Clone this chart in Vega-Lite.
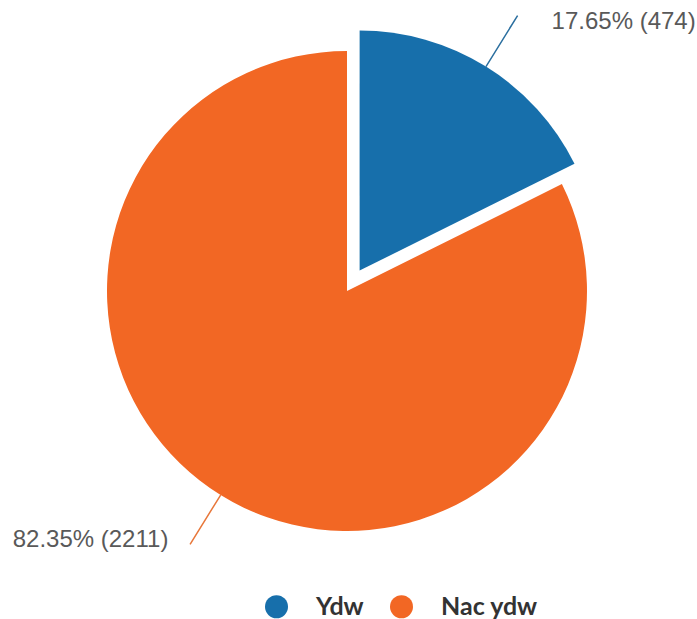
{
  "$schema": "https://vega.github.io/schema/vega-lite/v6.json",
  "width": 694,
  "height": 582,
  "autosize": {"type": "none"},
  "padding": {"left": 0, "top": 0, "right": 3, "bottom": 37},
  "background": "white",
  "config": {"view": {"stroke": null}},
  "data": {"values": [
    {"label": "Ydw", "value": 474, "txt": "17.65% (474)"},
    {"label": "Nac ydw", "value": 2211, "txt": "82.35% (2211)"}
  ]},
  "transform": [
    {"stack": "value", "groupby": [], "sort": [{"field": "value", "order": "ascending"}], "offset": "normalize", "as": ["v0", "v1"]},
    {"calculate": "(datum.v0 + datum.v1) / 2", "as": "mid"}
  ],
  "layer": [
    {
      "transform": [{"filter": "datum.label === 'Nac ydw'"}],
      "mark": {"type": "arc", "outerRadius": 240},
      "encoding": {
        "theta": {"field": "v0", "type": "quantitative", "scale": {"domain": [0, 1]}},
        "theta2": {"field": "v1"},
        "color": {"field": "label", "type": "nominal",
          "scale": {"domain": ["Ydw", "Nac ydw"], "range": ["#176fab", "#f26724"]},
          "legend": {"title": null, "orient": "none", "legendX": 264, "legendY": 594, "direction": "horizontal",
            "symbolType": "circle", "symbolSize": 529, "symbolStrokeWidth": 0, "symbolOpacity": 1,
            "labelFont": "Lato", "labelFontWeight": "bold", "labelFontSize": 25, "labelColor": "#333333",
            "labelOffset": 27, "columnPadding": 25, "padding": 0}}
      }
    },
    {
      "transform": [{"filter": "datum.label === 'Ydw'"}],
      "mark": {"type": "arc", "outerRadius": 240, "xOffset": 12.6, "yOffset": -20.4},
      "encoding": {
        "theta": {"field": "v0", "type": "quantitative", "scale": {"domain": [0, 1]}},
        "theta2": {"field": "v1"},
        "color": {"field": "label", "type": "nominal"}
      }
    },
    {
      "transform": [{"filter": "datum.label === 'Ydw'"}],
      "mark": {"type": "arc", "innerRadius": 240, "outerRadius": 300, "filled": false, "stroke": "#2b6f9f", "strokeWidth": 1.5, "xOffset": 12.6, "yOffset": -20.4},
      "encoding": {
        "theta": {"field": "mid", "type": "quantitative", "scale": {"domain": [0, 1]}},
        "theta2": {"field": "mid"}
      }
    },
    {
      "transform": [{"filter": "datum.label === 'Nac ydw'"}],
      "mark": {"type": "arc", "innerRadius": 240, "outerRadius": 298, "filled": false, "stroke": "#e8773a", "strokeWidth": 1.5},
      "encoding": {
        "theta": {"field": "mid", "type": "quantitative", "scale": {"domain": [0, 1]}},
        "theta2": {"field": "mid"}
      }
    },
    {
      "transform": [{"filter": "datum.label === 'Ydw'"}],
      "mark": {"type": "text", "radius": 305, "align": "left", "baseline": "middle", "dx": 44, "dy": -10, "font": "Liberation Sans", "fontSize": 24, "fill": "#595959"},
      "encoding": {
        "theta": {"field": "mid", "type": "quantitative", "scale": {"domain": [0, 1]}},
        "text": {"field": "txt"}
      }
    },
    {
      "transform": [{"filter": "datum.label === 'Nac ydw'"}],
      "mark": {"type": "text", "radius": 305, "align": "right", "baseline": "middle", "dx": -18, "dy": -10, "font": "Liberation Sans", "fontSize": 24, "fill": "#595959"},
      "encoding": {
        "theta": {"field": "mid", "type": "quantitative", "scale": {"domain": [0, 1]}},
        "text": {"field": "txt"}
      }
    }
  ]
}
